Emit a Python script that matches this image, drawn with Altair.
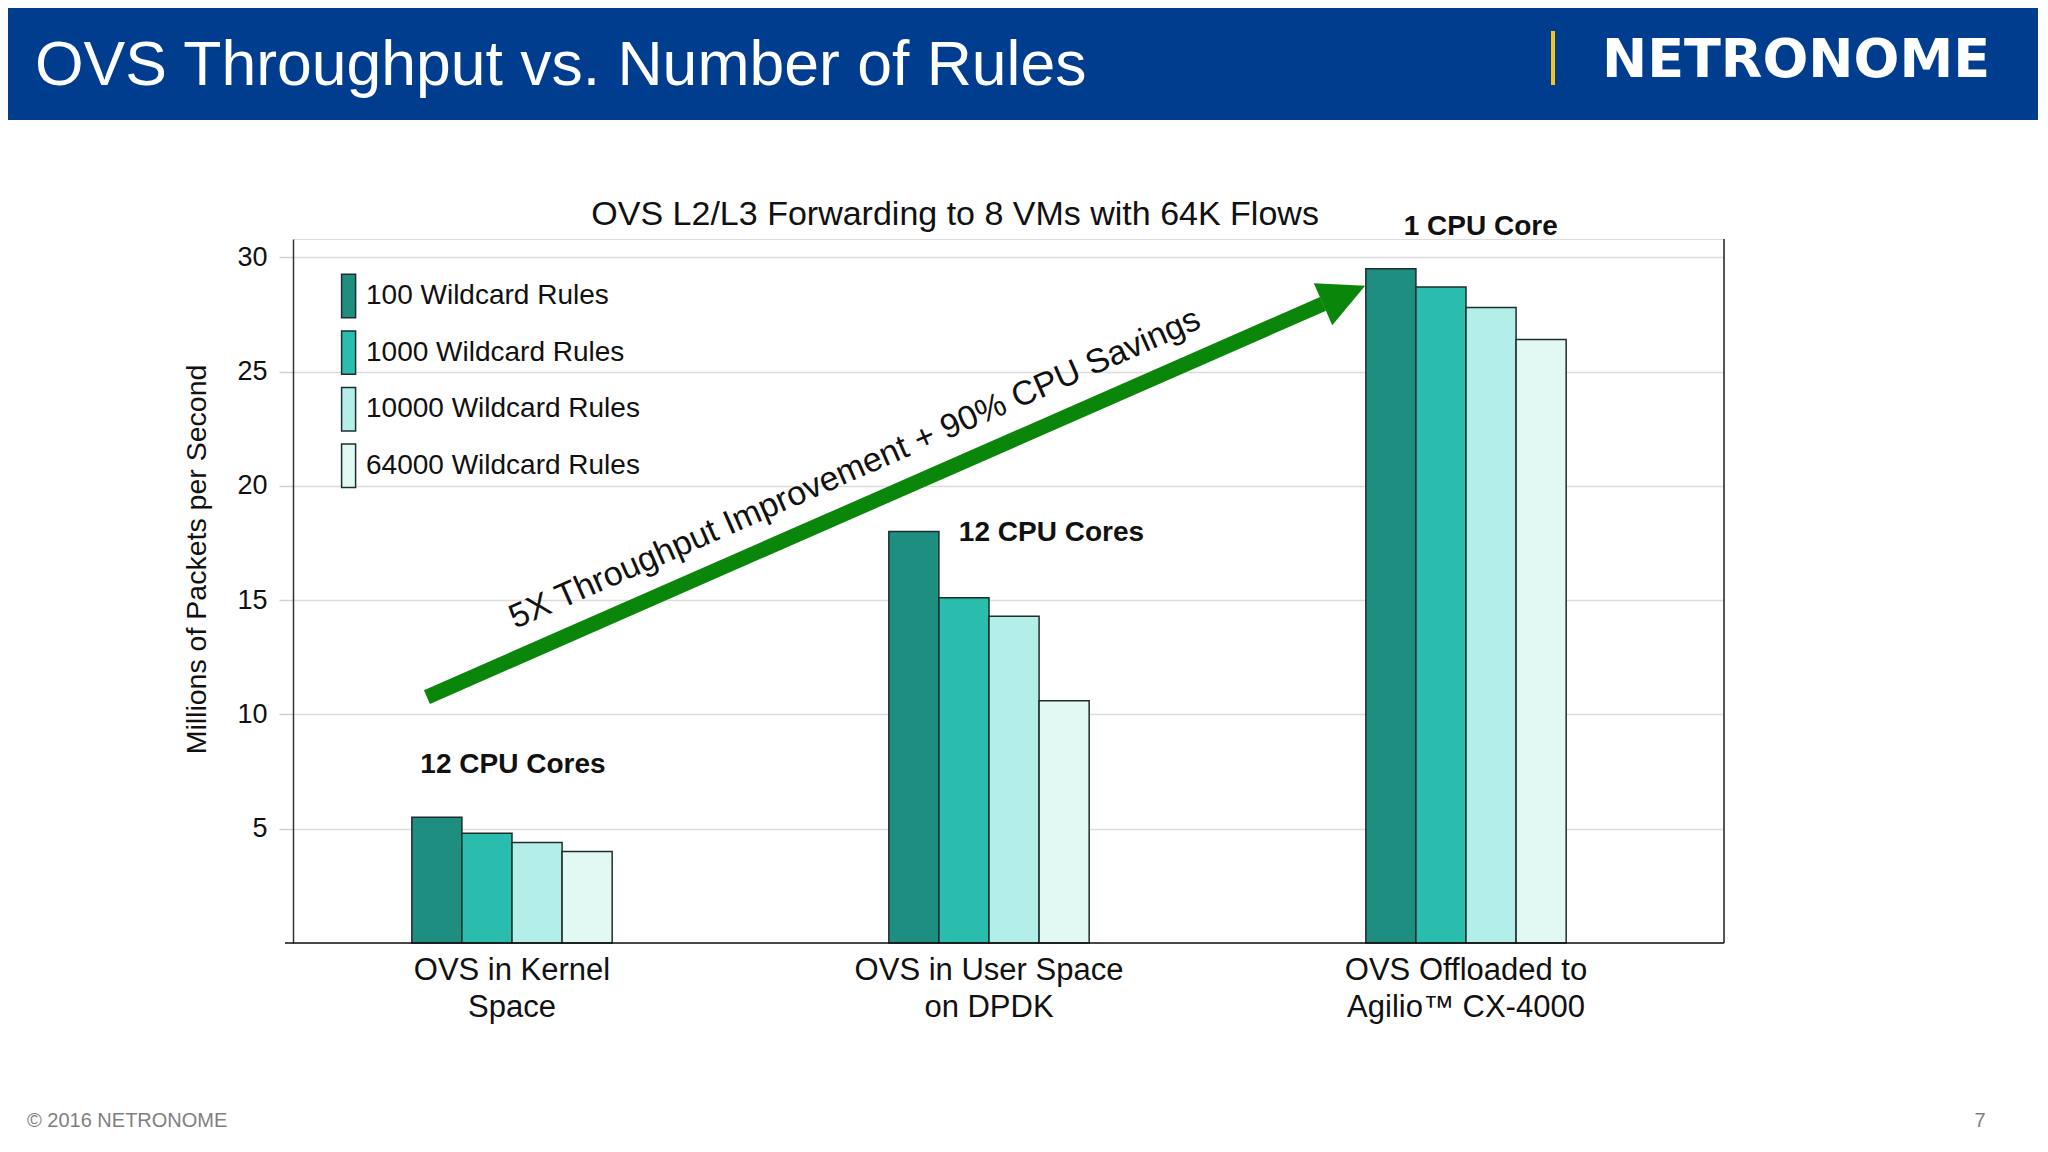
import altair as alt
import pandas as pd

# ---------------- data ----------------
categories = ["OVS in Kernel\nSpace", "OVS in User Space\non DPDK", "OVS Offloaded to\nAgilio\u2122 CX-4000"]
rule_sets = ["100 Wildcard Rules", "1000 Wildcard Rules", "10000 Wildcard Rules", "64000 Wildcard Rules"]
mpps_100 = [5.5, 18.0, 29.5]
mpps_1000 = [4.8, 15.1, 28.7]
mpps_10000 = [4.4, 14.3, 27.8]
mpps_64000 = [4.0, 10.6, 26.4]
y_ticks = [5, 10, 15, 20, 25, 30]
bar_colors = ["#1E8E80", "#2ABCAC", "#B3EEE8", "#E1F8F3"]

chart_title = "OVS L2/L3 Forwarding to 8 VMs with 64K Flows"
note_texts = ["12 CPU Cores", "12 CPU Cores", "1 CPU Core"]
note_x = [0.1537, 0.530, 0.830]      # fraction of plot width
note_y = [7.79, 17.94, 31.33]        # Mpps
arrow_text = "5X Throughput Improvement + 90% CPU Savings"
arrow_from = [0.0936, 10.76]
arrow_to = [0.7198, 27.96]
arrow_head = [0.7345, 28.35]

slide_title = "OVS Throughput vs. Number of Rules"
logo_text = "NETRONOME"
footer_text = "\u00a9 2016 NETRONOME"
page_number = "7"

# ---------------- layout ----------------
W, H = 1431, 704
PAD = {"left": 285, "top": 231, "right": 314, "bottom": 193}
TOTAL_W = PAD["left"] + W + PAD["right"]
FONT = "Liberation Sans"
YMAX = 30.8

rows = []
for series, vals in zip(rule_sets, [mpps_100, mpps_1000, mpps_10000, mpps_64000]):
    for c, v in zip(categories, vals):
        rows.append({"category": c, "rules": series, "mpps": v})
bars_df = pd.DataFrame(rows)

yscale = alt.Scale(domain=[0, YMAX], nice=False, zero=True)

bars = alt.Chart(bars_df).mark_bar(stroke="#1F2D2D", strokeWidth=1.5).encode(
    x=alt.X("category:N", sort=categories,
            scale=alt.Scale(domain=categories, range=[-19.5, W - 19.5], paddingInner=0.58, paddingOuter=0.29),
            axis=alt.Axis(title=None, labelAngle=0, ticks=False, labelExpr="split(datum.label, '\\n')",
                          labelFontSize=31, labelLineHeight=37, labelColor="#111111", labelFont=FONT,
                          labelPadding=12, labelLimit=600, domain=False, grid=False)),
    xOffset=alt.XOffset("rules:N", sort=rule_sets, scale=alt.Scale(paddingInner=0, paddingOuter=0)),
    y=alt.Y("mpps:Q", scale=yscale, axis=None),
    color=alt.Color("rules:N", sort=rule_sets,
                    scale=alt.Scale(domain=rule_sets, range=bar_colors),
                    legend=alt.Legend(title=None, orient="none", legendX=41.6, legendY=43,
                                      symbolType="M-1,-3.1L1,-3.1L1,3.1L-1,3.1Z", symbolSize=196,
                                      symbolStrokeColor="#1F2D2D", symbolStrokeWidth=1.5, symbolOpacity=1,
                                      labelFontSize=28, labelFont=FONT, labelColor="#111111",
                                      rowPadding=6.6, labelOffset=3.4, padding=0, labelLimit=400)),
)

ax = alt.Scale(domain=[0, 1], nice=False, zero=False)
ay = alt.Scale(domain=[0, YMAX], nice=False, zero=True)

y_axis = alt.Axis(values=y_ticks, title="Millions of Packets per Second", grid=True,
                  gridColor="#DCDCDC", gridWidth=1.5, tickColor="#D0D0D0", tickSize=14, tickWidth=1.5,
                  domainColor="#333333", domainWidth=1.5, labelFontSize=27, labelColor="#111111",
                  labelFont=FONT, labelPadding=12, titleFontSize=28.5, titleFontWeight="normal",
                  titleColor="#111111", titleFont=FONT, titleX=-97, titleY=320,
                  titleBaseline="middle", titleAlign="center", titleAngle=270)

def ax_x(field):
    return alt.X(field, scale=ax, axis=None)

def ax_y(field):
    return alt.Y(field, scale=ay, axis=y_axis)

title_df = pd.DataFrame({"t": [chart_title], "ax": [0.4627], "ay": [31.85]})
title_mark = alt.Chart(title_df).mark_text(fontSize=34, font=FONT, color="#111111", baseline="middle").encode(
    x=ax_x("ax:Q"), y=ax_y("ay:Q"), text="t:N")

notes_df = pd.DataFrame({"t": note_texts, "ax": note_x, "ay": note_y})
notes = alt.Chart(notes_df).mark_text(fontSize=28, font=FONT, fontWeight="bold", color="#111111",
                                      baseline="middle").encode(
    x=ax_x("ax:Q"), y=ax_y("ay:Q"), text="t:N")

shaft_df = pd.DataFrame({"ax": [arrow_from[0]], "ay": [arrow_from[1]], "ax2": [arrow_to[0]], "ay2": [arrow_to[1]]})
shaft = alt.Chart(shaft_df).mark_rule(color="#0A860A", strokeWidth=15, strokeCap="butt").encode(
    x=ax_x("ax:Q"), y=ax_y("ay:Q"), x2="ax2:Q", y2="ay2:Q")

head_df = pd.DataFrame({"ax": [arrow_head[0]], "ay": [arrow_head[1]]})
head = alt.Chart(head_df).mark_point(shape="M-1,-1L1,0L-1,1Z", size=2116, filled=True, color="#0A860A",
                                     opacity=1, angle=336.3).encode(
    x=ax_x("ax:Q"), y=ax_y("ay:Q"))

atext_df = pd.DataFrame({"t": [arrow_text], "ax": [0.3927], "ay": [20.74]})
atext = alt.Chart(atext_df).mark_text(fontSize=34, font=FONT, color="#111111", angle=336.3,
                                      baseline="middle", align="center").encode(
    x=ax_x("ax:Q"), y=ax_y("ay:Q"), text="t:N")

one = pd.DataFrame({"k": [0]})
right_border = alt.Chart(one).mark_rule(color="#222222", strokeWidth=1.5).encode(
    x=alt.value(W), y=alt.value(0), y2=alt.value(H))
baseline_rule = alt.Chart(one).mark_rule(color="#111111", strokeWidth=1.5).encode(
    x=alt.value(-8), x2=alt.value(W), y=alt.value(H))

header = alt.Chart(one).mark_rect(color="#003D8F").encode(
    x=alt.value(-PAD["left"]), x2=alt.value(TOTAL_W - PAD["left"]), y=alt.value(-PAD["top"]), y2=alt.value(-119))
ybar = alt.Chart(one).mark_rect(color="#F2C41C").encode(
    x=alt.value(1258), x2=alt.value(1262), y=alt.value(-208), y2=alt.value(-154))

def label(text, x, y, **kw):
    df = pd.DataFrame({"t": [text]})
    return alt.Chart(df).mark_text(**kw).encode(x=alt.value(x), y=alt.value(y), text="t:N")

head_title = label(slide_title, -258, -154, fontSize=62.5, font=FONT, color="white", align="left", baseline="alphabetic")
logo = label(logo_text, 1503, -162, fontSize=54, font="DejaVu Sans", fontWeight="bold", color="white",
             align="center", baseline="alphabetic")
footer = label(footer_text, -266, 888, fontSize=20, font=FONT, color="#7F7F7F", align="left", baseline="alphabetic")
pnum = label(page_number, 1687, 888, fontSize=20, font=FONT, color="#7F7F7F", align="center", baseline="alphabetic")

annot = alt.layer(title_mark, notes, shaft, head, atext)

chart = alt.layer(
    header, ybar, head_title, logo, footer, pnum, right_border, annot, bars, baseline_rule
).resolve_scale(x="independent", y="independent", color="independent").properties(
    width=W, height=H, padding=PAD, autosize=alt.AutoSizeParams(type="none")
).configure_view(stroke=None).configure(font=FONT, background="white")

chart.save("out.html", embed_options={"renderer": "svg", "actions": False})
